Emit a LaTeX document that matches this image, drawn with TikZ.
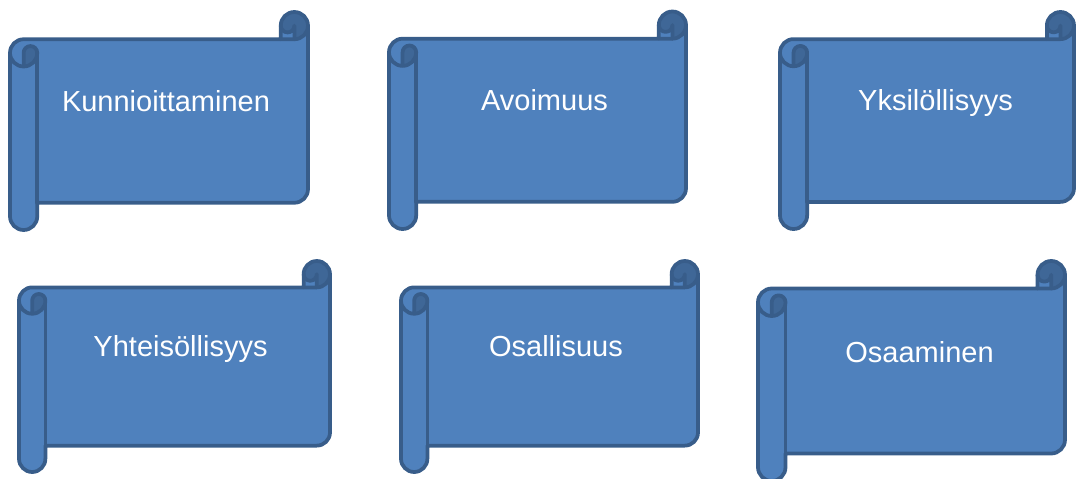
\documentclass[tikz,border=0pt]{standalone}
\usepackage{fontspec}
\setmainfont{Liberation Sans}
\definecolor{scrollfill}{HTML}{4F81BD}
\definecolor{scrolldark}{HTML}{3F6797}
\definecolor{scrollline}{HTML}{385D8A}
\tikzset{
  scrolledge/.style={draw=scrollline, line width=3.75pt, line join=round, line cap=round},
  scrolltext/.style={text=white, inner sep=0pt, anchor=base, font=\fontsize{29}{34}\selectfont},
}
% Horizontal scroll: #1 left, #2 top, #3 right, #4 bottom (y measured downwards)
\newcommand{\scrollbanner}[4]{%
  \pgfmathsetmacro\srL{#1}%
  \pgfmathsetmacro\srR{#3}%
  \pgfmathsetmacro\srC{((#4)-(#2))/8}%
  \pgfmathsetmacro\srCh{\srC/2}%
  \pgfmathsetmacro\srCq{\srC/4}%
  \pgfmathsetmacro\srXa{\srL+\srC}%
  \pgfmathsetmacro\srXb{\srL+\srCh}%
  \pgfmathsetmacro\srXc{\srR-\srC}%
  \pgfmathsetmacro\srXd{\srR-\srCh}%
  \pgfmathsetmacro\srYa{-((#2)+\srC)}%
  \pgfmathsetmacro\srYb{-((#2)+\srCh)}%
  \pgfmathsetmacro\srYc{-((#2)+1.5*\srC)}%
  \pgfmathsetmacro\srYd{-((#2)+2*\srC)}%
  \pgfmathsetmacro\srYe{-((#4)-1.5*\srC)}%
  \pgfmathsetmacro\srYf{-((#4)-\srC)}%
  \pgfmathsetmacro\srYg{-((#4)-\srCh)}%
  % sheet with both rolls
  \fill[scrollfill] (\srL,\srYc) arc[start angle=180, end angle=90, radius=\srCh]
    -- (\srXc,\srYa) -- (\srXc,\srYb) arc[start angle=180, end angle=0, radius=\srCh]
    -- (\srR,\srYe) arc[start angle=0, end angle=-90, radius=\srCh]
    -- (\srXa,\srYf) -- (\srXa,\srYg) arc[start angle=0, end angle=-180, radius=\srCh]
    -- cycle;
  % shaded inside of the curls
  \fill[scrolldark] (\srXb,\srYd) arc[start angle=-90, end angle=0, radius=\srCh]
    arc[start angle=0, end angle=180, radius=\srCq] -- cycle;
  \fill[scrolldark] (\srXd,\srYa) arc[start angle=-90, end angle=180, radius=\srCh]
    arc[start angle=180, end angle=360, radius=\srCq] -- cycle;
  % outline
  \draw[scrolledge] (\srL,\srYc) arc[start angle=180, end angle=90, radius=\srCh]
    -- (\srXc,\srYa) -- (\srXc,\srYb) arc[start angle=180, end angle=0, radius=\srCh]
    -- (\srR,\srYe) arc[start angle=0, end angle=-90, radius=\srCh]
    -- (\srXa,\srYf) -- (\srXa,\srYg) arc[start angle=0, end angle=-180, radius=\srCh]
    -- cycle;
  % curl lines
  \draw[scrolledge] (\srXc,\srYa) -- (\srXd,\srYa) arc[start angle=-90, end angle=0, radius=\srCh];
  \draw[scrolledge] (\srXd,\srYa) -- (\srXd,\srYb) arc[start angle=0, end angle=-180, radius=\srCq];
  \draw[scrolledge] (\srXb,\srYd) -- (\srXb,\srYc) arc[start angle=180, end angle=0, radius=\srCq]
    arc[start angle=0, end angle=-180, radius=\srCh];
  \draw[scrolledge] (\srXa,\srYc) -- (\srXa,\srYf);
}
\begin{document}
\begin{tikzpicture}[x=1pt, y=1pt]
  \useasboundingbox (0,0) rectangle (1077,-479);
  % top row
  \scrollbanner{10}{12}{308}{230}
  \node[scrolltext] (kunn) at (166,-111) {Kunnioittaminen};
  \scrollbanner{389}{11.5}{686}{229}
  \node[scrolltext] (avoi) at (544.5,-110) {Avoimuus};
  \scrollbanner{780}{12}{1074}{229}
  \node[scrolltext] (yksi) at (935.5,-110) {Yksilöllisyys};
  % bottom row
  \scrollbanner{19}{261}{330}{472}
  \node[scrolltext] (yhte) at (180.5,-356) {Yhteisöllisyys};
  \scrollbanner{401}{261}{698}{472}
  \node[scrolltext] (osal) at (556,-356) {Osallisuus};
  \scrollbanner{758}{261}{1065}{481}
  \node[scrolltext] (osaa) at (919.5,-362) {Osaaminen};
\end{tikzpicture}
\end{document}
